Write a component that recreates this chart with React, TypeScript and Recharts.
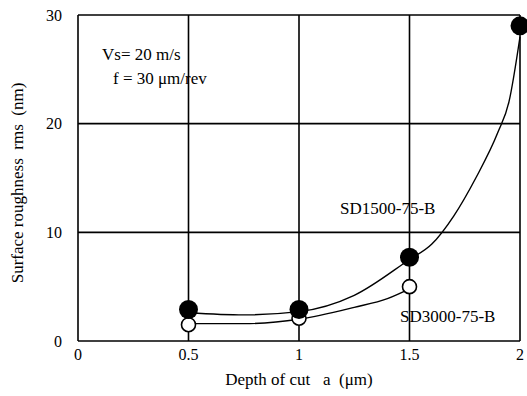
import { ComposedChart, Line, Scatter, XAxis, YAxis, CartesianGrid } from 'recharts'

// measured points
const sd1500X = [0.5, 1, 1.5, 2]
const sd1500Y = [2.9, 2.9, 7.7, 29]
const sd3000X = [0.5, 1, 1.5]
const sd3000Y = [1.5, 2.1, 5.0]

// fitted curves
const fit1500X = [0.5, 0.75, 1, 1.25, 1.5, 1.6, 1.7, 1.8, 1.9, 1.95, 2]
const fit1500Y = [2.6, 2.4, 2.7, 4.2, 7.5, 8.9, 11.5, 15.0, 19.2, 22.0, 28.0]
const fit3000X = [0.5, 0.75, 1, 1.25, 1.4, 1.5]
const fit3000Y = [1.6, 1.6, 2.0, 3.1, 3.9, 4.8]

const xTicks = [0, 0.5, 1, 1.5, 2]
const yTicks = [0, 10, 20, 30]

const zip = (xs: number[], ys: number[]) => xs.map((x, i) => ({ x, y: ys[i] }))

const sd1500 = zip(sd1500X, sd1500Y)
const sd3000 = zip(sd3000X, sd3000Y)
const fit1500 = zip(fit1500X, fit1500Y)
const fit3000 = zip(fit3000X, fit3000Y)

const FONT = '"Liberation Serif", "DejaVu Serif", serif'
const NB = '\u00A0'

const FilledDot = (props: any) => <circle cx={props.cx} cy={props.cy} r={9.5} fill="#000" />
const OpenDot = (props: any) => (
  <circle cx={props.cx} cy={props.cy} r={7} fill="#fff" stroke="#000" strokeWidth={1.6} />
)

export default function App() {
  const tick = { fill: '#000', fontSize: 16, fontFamily: FONT }
  return (
    <div style={{ position: 'absolute', left: 0, top: 0, width: 527, height: 396, background: '#fff' }}>
      <ComposedChart width={527} height={396} margin={{ top: 15, right: 7, left: 0, bottom: 0 }}>
        <CartesianGrid stroke="#000" strokeWidth={1.6} />
        <XAxis
          type="number"
          dataKey="x"
          domain={[0, 2]}
          ticks={xTicks}
          tick={tick}
          tickLine={false}
          axisLine={false}
          tickMargin={2}
          height={55}
          interval={0}
        />
        <YAxis
          type="number"
          dataKey="y"
          domain={[0, 30]}
          ticks={yTicks}
          tick={tick}
          tickLine={false}
          axisLine={false}
          tickMargin={10}
          width={78}
          interval={0}
        />
        <Line data={fit1500} dataKey="y" type="monotone" stroke="#000" strokeWidth={1.4} dot={false} isAnimationActive={false} />
        <Line data={fit3000} dataKey="y" type="monotone" stroke="#000" strokeWidth={1.4} dot={false} isAnimationActive={false} />
        <Scatter data={sd3000} dataKey="y" shape={OpenDot} isAnimationActive={false} />
        <Scatter data={sd1500} dataKey="y" shape={FilledDot} isAnimationActive={false} />
      </ComposedChart>
      <svg width={527} height={396} style={{ position: 'absolute', left: 0, top: 0, pointerEvents: 'none' }}>
        <g fontFamily={FONT} fontSize={17} fill="#000">
          <text x={102} y={60}>Vs= 20 m/s</text>
          <text x={113} y={84}>f = 30 μm/rev</text>
          <text x={340} y={214}>SD1500-75-B</text>
          <text x={400} y={322}>SD3000-75-B</text>
          <text x={299} y={385} textAnchor="middle">
            {`Depth of cut ${NB}${NB}a ${NB}(μm)`}
          </text>
          <text x={23} y={183} textAnchor="middle" transform="rotate(-90 23 183)">
            {`Surface roughness ${NB}rms ${NB}(nm)`}
          </text>
        </g>
      </svg>
    </div>
  )
}
